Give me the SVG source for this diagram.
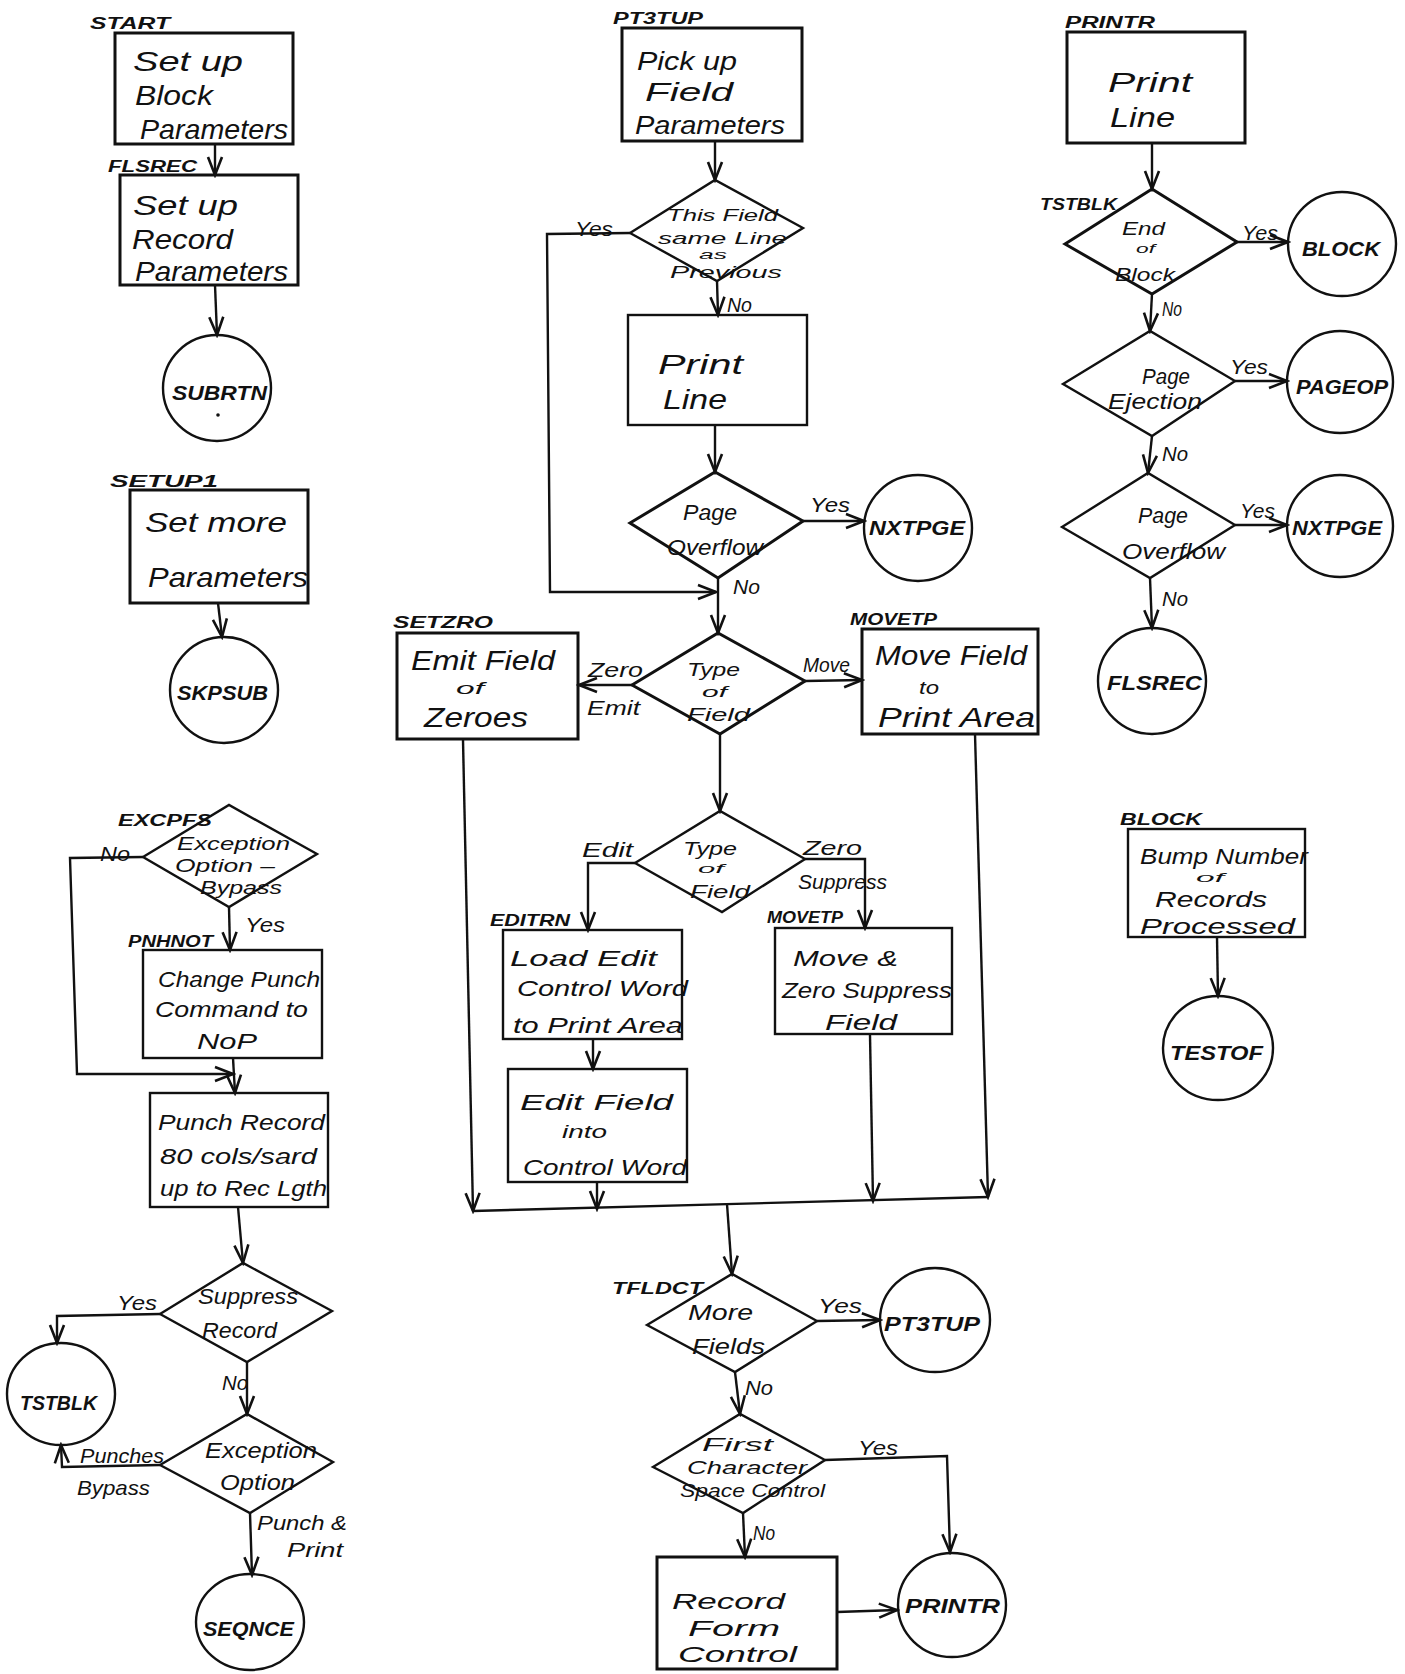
<svg xmlns="http://www.w3.org/2000/svg" width="1405" height="1674" viewBox="0 0 1405 1674">
<defs>
<style>
text{font-family:"Liberation Sans","DejaVu Sans",sans-serif;font-style:italic;fill:#111}
.t{font-size:28px}
.t2{font-size:26px}
.t3{font-size:22px}
.d{font-size:22px}
.d2{font-size:18px}
.o{font-size:14px}
.c{font-size:20px;font-weight:bold}
.n{font-size:16px;font-weight:bold}
.e{font-size:21px}
.s{fill:none;stroke:#111;stroke-width:3}
.l{fill:none;stroke:#111;stroke-width:2.4}
</style>
<marker id="a" markerWidth="22" markerHeight="18" refX="19" refY="9" orient="auto" markerUnits="userSpaceOnUse">
<path d="M1,2 L19,9 L1,16" fill="none" stroke="#111" stroke-width="2.6"/>
</marker>
</defs>
<rect width="1405" height="1674" fill="#fff"/>

<g id="connectors" class="l">
<line x1="215" y1="144" x2="215" y2="175" marker-end="url(#a)"/>
<line x1="215" y1="285" x2="217" y2="335" marker-end="url(#a)"/>
<line x1="218" y1="603" x2="222" y2="637" marker-end="url(#a)"/>
<polyline points="143,857 70,858 77,1074 233,1074" marker-end="url(#a)"/>
<line x1="229" y1="907" x2="230" y2="950" marker-end="url(#a)"/>
<line x1="233" y1="1058" x2="235" y2="1093" marker-end="url(#a)"/>
<line x1="238" y1="1207" x2="243" y2="1263" marker-end="url(#a)"/>
<polyline points="160,1314 57,1316 57,1343" marker-end="url(#a)"/>
<line x1="247" y1="1362" x2="247" y2="1414" marker-end="url(#a)"/>
<polyline points="160,1465 62,1467 61,1445" marker-end="url(#a)"/>
<line x1="250" y1="1513" x2="252" y2="1575" marker-end="url(#a)"/>
<line x1="715" y1="141" x2="715" y2="180" marker-end="url(#a)"/>
<polyline points="630,233 547,234 550,592 716,592" marker-end="url(#a)"/>
<line x1="717" y1="281" x2="718" y2="315" marker-end="url(#a)"/>
<line x1="715" y1="425" x2="715" y2="472" marker-end="url(#a)"/>
<line x1="803" y1="521" x2="864" y2="521" marker-end="url(#a)"/>
<line x1="718" y1="578" x2="718" y2="633" marker-end="url(#a)"/>
<line x1="632" y1="685" x2="579" y2="685" marker-end="url(#a)"/>
<line x1="805" y1="681" x2="862" y2="680" marker-end="url(#a)"/>
<line x1="720" y1="734" x2="720" y2="811" marker-end="url(#a)"/>
<polyline points="635,863 588,863 588,930" marker-end="url(#a)"/>
<polyline points="805,859 865,859 865,928" marker-end="url(#a)"/>
<line x1="593" y1="1039" x2="593" y2="1069" marker-end="url(#a)"/>
<line x1="463" y1="740" x2="473" y2="1211" marker-end="url(#a)"/>
<line x1="597" y1="1182" x2="597" y2="1209" marker-end="url(#a)"/>
<line x1="870" y1="1035" x2="873" y2="1201" marker-end="url(#a)"/>
<line x1="975" y1="734" x2="988" y2="1197" marker-end="url(#a)"/>
<line x1="473" y1="1211" x2="988" y2="1197"/>
<line x1="727" y1="1204" x2="732" y2="1274" marker-end="url(#a)"/>
<line x1="817" y1="1321" x2="880" y2="1320" marker-end="url(#a)"/>
<line x1="735" y1="1372" x2="740" y2="1414" marker-end="url(#a)"/>
<polyline points="825,1460 947,1456 950,1552" marker-end="url(#a)"/>
<line x1="743" y1="1513" x2="745" y2="1557" marker-end="url(#a)"/>
<line x1="837" y1="1612" x2="897" y2="1610" marker-end="url(#a)"/>
<line x1="1152" y1="143" x2="1152" y2="189" marker-end="url(#a)"/>
<line x1="1237" y1="242" x2="1288" y2="242" marker-end="url(#a)"/>
<line x1="1152" y1="294" x2="1150" y2="331" marker-end="url(#a)"/>
<line x1="1235" y1="381" x2="1287" y2="381" marker-end="url(#a)"/>
<line x1="1152" y1="436" x2="1148" y2="473" marker-end="url(#a)"/>
<line x1="1235" y1="525" x2="1287" y2="525" marker-end="url(#a)"/>
<line x1="1150" y1="578" x2="1152" y2="628" marker-end="url(#a)"/>
<line x1="1217" y1="937" x2="1218" y2="996" marker-end="url(#a)"/>
</g>

<g id="edge-labels" class="e">
<text x="100" y="861" textLength="30" lengthAdjust="spacingAndGlyphs">No</text>
<text x="245" y="932" textLength="40" lengthAdjust="spacingAndGlyphs">Yes</text>
<text x="117" y="1310" textLength="40" lengthAdjust="spacingAndGlyphs">Yes</text>
<text x="222" y="1390" textLength="26" lengthAdjust="spacingAndGlyphs">No</text>
<text x="80" y="1463" textLength="84" lengthAdjust="spacingAndGlyphs">Punches</text>
<text x="77" y="1495" textLength="73" lengthAdjust="spacingAndGlyphs">Bypass</text>
<text x="257" y="1530" textLength="90" lengthAdjust="spacingAndGlyphs">Punch &amp;</text>
<text x="287" y="1557" textLength="56" lengthAdjust="spacingAndGlyphs">Print</text>
<text x="575" y="236" textLength="38" lengthAdjust="spacingAndGlyphs">Yes</text>
<text x="727" y="312" textLength="25" lengthAdjust="spacingAndGlyphs">No</text>
<text x="810" y="512" textLength="40" lengthAdjust="spacingAndGlyphs">Yes</text>
<text x="733" y="594" textLength="27" lengthAdjust="spacingAndGlyphs">No</text>
<text x="588" y="677" textLength="55" lengthAdjust="spacingAndGlyphs">Zero</text>
<text x="587" y="715" textLength="53" lengthAdjust="spacingAndGlyphs">Emit</text>
<text x="803" y="672" textLength="47" lengthAdjust="spacingAndGlyphs">Move</text>
<text x="582" y="857" textLength="51" lengthAdjust="spacingAndGlyphs">Edit</text>
<text x="803" y="855" textLength="59" lengthAdjust="spacingAndGlyphs">Zero</text>
<text x="798" y="889" textLength="89" lengthAdjust="spacingAndGlyphs">Suppress</text>
<text x="818" y="1313" textLength="44" lengthAdjust="spacingAndGlyphs">Yes</text>
<text x="745" y="1395" textLength="28" lengthAdjust="spacingAndGlyphs">No</text>
<text x="858" y="1455" textLength="40" lengthAdjust="spacingAndGlyphs">Yes</text>
<text x="753" y="1540" textLength="22" lengthAdjust="spacingAndGlyphs">No</text>
<text x="1242" y="240" textLength="36" lengthAdjust="spacingAndGlyphs">Yes</text>
<text x="1162" y="316" textLength="20" lengthAdjust="spacingAndGlyphs">No</text>
<text x="1230" y="374" textLength="38" lengthAdjust="spacingAndGlyphs">Yes</text>
<text x="1162" y="461" textLength="26" lengthAdjust="spacingAndGlyphs">No</text>
<text x="1240" y="518" textLength="35" lengthAdjust="spacingAndGlyphs">Yes</text>
<text x="1162" y="606" textLength="26" lengthAdjust="spacingAndGlyphs">No</text>
</g>

<g id="start">
<text class="n" x="90" y="29" textLength="80" lengthAdjust="spacingAndGlyphs">START</text>
<rect class="s" x="115" y="33" width="178" height="111"/>
<text class="t" x="133" y="71" textLength="110" lengthAdjust="spacingAndGlyphs">Set up</text>
<text class="t" x="135" y="105" textLength="78" lengthAdjust="spacingAndGlyphs">Block</text>
<text class="t" x="140" y="139" textLength="148" lengthAdjust="spacingAndGlyphs">Parameters</text>
</g>
<g id="flsrec">
<text class="n" x="108" y="172" textLength="89" lengthAdjust="spacingAndGlyphs">FLSREC</text>
<rect class="s" x="120" y="175" width="178" height="110"/>
<text class="t" x="133" y="215" textLength="105" lengthAdjust="spacingAndGlyphs">Set up</text>
<text class="t" x="132" y="249" textLength="101" lengthAdjust="spacingAndGlyphs">Record</text>
<text class="t" x="135" y="281" textLength="153" lengthAdjust="spacingAndGlyphs">Parameters</text>
</g>
<g id="subrtn">
<ellipse class="l" cx="217" cy="388" rx="54" ry="53"/>
<text class="c" x="172" y="400" textLength="95" lengthAdjust="spacingAndGlyphs">SUBRTN</text>
<circle cx="218" cy="415" r="1.8" fill="#111"/>
</g>
<g id="setup1">
<text class="n" x="110" y="487" textLength="108" lengthAdjust="spacingAndGlyphs">SETUP1</text>
<rect class="s" x="130" y="490" width="178" height="113"/>
<text class="t" x="145" y="532" textLength="142" lengthAdjust="spacingAndGlyphs">Set more</text>
<text class="t" x="148" y="587" textLength="160" lengthAdjust="spacingAndGlyphs">Parameters</text>
</g>
<g id="skpsub">
<ellipse class="l" cx="224" cy="690" rx="54" ry="53"/>
<text class="c" x="177" y="700" textLength="91" lengthAdjust="spacingAndGlyphs">SKPSUB</text>
</g>
<g id="excpfs">
<text class="n" x="118" y="826" textLength="94" lengthAdjust="spacingAndGlyphs">EXCPFS</text>
<polygon class="l" points="143,857 229,805 317,854 229,907"/>
<text class="d2" x="177" y="850" textLength="113" lengthAdjust="spacingAndGlyphs">Exception</text>
<text class="d2" x="175" y="872" textLength="100" lengthAdjust="spacingAndGlyphs">Option –</text>
<text class="d2" x="200" y="894" textLength="82" lengthAdjust="spacingAndGlyphs">Bypass</text>
</g>
<g id="pnhnot">
<text class="n" x="128" y="947" textLength="85" lengthAdjust="spacingAndGlyphs">PNHNOT</text>
<rect class="l" x="143" y="950" width="179" height="108"/>
<text class="d" x="158" y="987" textLength="162" lengthAdjust="spacingAndGlyphs">Change Punch</text>
<text class="d" x="155" y="1017" textLength="153" lengthAdjust="spacingAndGlyphs">Command to</text>
<text class="d" x="197" y="1049" textLength="60" lengthAdjust="spacingAndGlyphs">NoP</text>
</g>
<g id="punch-record">
<rect class="l" x="150" y="1093" width="178" height="114"/>
<text class="d" x="158" y="1130" textLength="167" lengthAdjust="spacingAndGlyphs">Punch Record</text>
<text class="d" x="160" y="1164" textLength="157" lengthAdjust="spacingAndGlyphs">80 cols/sard</text>
<text class="d" x="160" y="1196" textLength="167" lengthAdjust="spacingAndGlyphs">up to Rec Lgth</text>
</g>
<g id="suppress-record">
<polygon class="l" points="160,1314 243,1263 332,1311 247,1362"/>
<text class="d" x="198" y="1304" textLength="100" lengthAdjust="spacingAndGlyphs">Suppress</text>
<text class="d" x="202" y="1338" textLength="75" lengthAdjust="spacingAndGlyphs">Record</text>
</g>
<g id="tstblk-conn">
<ellipse class="l" cx="61" cy="1394" rx="54" ry="51"/>
<text class="c" x="20" y="1410" textLength="77" lengthAdjust="spacingAndGlyphs">TSTBLK</text>
</g>
<g id="exception-option">
<polygon class="l" points="160,1465 247,1414 333,1462 250,1513"/>
<text class="d" x="205" y="1458" textLength="112" lengthAdjust="spacingAndGlyphs">Exception</text>
<text class="d" x="220" y="1490" textLength="75" lengthAdjust="spacingAndGlyphs">Option</text>
</g>
<g id="seqnce">
<ellipse class="l" cx="250" cy="1622" rx="54" ry="48"/>
<text class="c" x="203" y="1636" textLength="91" lengthAdjust="spacingAndGlyphs">SEQNCE</text>
</g>

<g id="pt3tup">
<text class="n" x="613" y="24" textLength="90" lengthAdjust="spacingAndGlyphs">PT3TUP</text>
<rect class="s" x="622" y="28" width="180" height="113"/>
<text class="t2" x="637" y="70" textLength="100" lengthAdjust="spacingAndGlyphs">Pick up</text>
<text class="t2" x="645" y="101" textLength="88" lengthAdjust="spacingAndGlyphs">Field</text>
<text class="t2" x="635" y="134" textLength="150" lengthAdjust="spacingAndGlyphs">Parameters</text>
</g>
<g id="same-line">
<polygon class="l" points="630,233 715,180 803,228 717,281"/>
<text x="667" y="221" style="font-size:17px" textLength="111" lengthAdjust="spacingAndGlyphs">This Field</text>
<text x="658" y="244" style="font-size:17px" textLength="129" lengthAdjust="spacingAndGlyphs">same Line</text>
<text x="699" y="259" style="font-size:12px" textLength="28" lengthAdjust="spacingAndGlyphs">as</text>
<text x="670" y="278" style="font-size:17px" textLength="112" lengthAdjust="spacingAndGlyphs">Previous</text>
</g>
<g id="print-line-1">
<rect class="l" x="628" y="315" width="179" height="110"/>
<text class="t" x="658" y="374" textLength="85" lengthAdjust="spacingAndGlyphs">Print</text>
<text class="t" x="663" y="409" textLength="64" lengthAdjust="spacingAndGlyphs">Line</text>
</g>
<g id="page-overflow-1">
<polygon class="s" points="630,523 715,472 803,521 718,578"/>
<text class="d" x="683" y="520" textLength="54" lengthAdjust="spacingAndGlyphs">Page</text>
<text class="d" x="667" y="555" textLength="96" lengthAdjust="spacingAndGlyphs">Overflow</text>
</g>
<g id="nxtpge-1">
<ellipse class="l" cx="918" cy="528" rx="54" ry="53"/>
<text class="c" x="869" y="535" textLength="96" lengthAdjust="spacingAndGlyphs">NXTPGE</text>
</g>
<g id="setzro">
<text class="n" x="393" y="628" textLength="100" lengthAdjust="spacingAndGlyphs">SETZRO</text>
<rect class="s" x="397" y="633" width="181" height="106"/>
<text class="t" x="411" y="670" textLength="144" lengthAdjust="spacingAndGlyphs">Emit Field</text>
<text x="456" y="694" style="font-size:16px" textLength="28" lengthAdjust="spacingAndGlyphs">of</text>
<text class="t" x="424" y="727" textLength="104" lengthAdjust="spacingAndGlyphs">Zeroes</text>
</g>
<g id="type-of-field-1">
<polygon class="s" points="632,685 718,633 805,681 720,734"/>
<text x="687" y="676" style="font-size:19px" textLength="53" lengthAdjust="spacingAndGlyphs">Type</text>
<text class="o" x="702" y="697" textLength="25" lengthAdjust="spacingAndGlyphs">of</text>
<text x="687" y="721" style="font-size:19px" textLength="63" lengthAdjust="spacingAndGlyphs">Field</text>
</g>
<g id="movetp-1">
<text class="n" x="850" y="625" textLength="87" lengthAdjust="spacingAndGlyphs">MOVETP</text>
<rect class="s" x="862" y="629" width="176" height="105"/>
<text class="t" x="875" y="665" textLength="152" lengthAdjust="spacingAndGlyphs">Move Field</text>
<text x="919" y="694" style="font-size:18px" textLength="20" lengthAdjust="spacingAndGlyphs">to</text>
<text class="t" x="878" y="727" textLength="157" lengthAdjust="spacingAndGlyphs">Print Area</text>
</g>
<g id="type-of-field-2">
<polygon class="l" points="635,863 720,811 805,859 722,912"/>
<text class="d2" x="683" y="855" textLength="54" lengthAdjust="spacingAndGlyphs">Type</text>
<text x="698" y="873" style="font-size:13px" textLength="26" lengthAdjust="spacingAndGlyphs">of</text>
<text class="d2" x="690" y="898" textLength="60" lengthAdjust="spacingAndGlyphs">Field</text>
</g>
<g id="editrn">
<text class="n" x="490" y="926" textLength="80" lengthAdjust="spacingAndGlyphs">EDITRN</text>
<rect class="l" x="503" y="930" width="179" height="109"/>
<text class="d" x="510" y="966" textLength="147" lengthAdjust="spacingAndGlyphs">Load Edit</text>
<text class="d" x="517" y="996" textLength="171" lengthAdjust="spacingAndGlyphs">Control Word</text>
<text class="d" x="513" y="1033" textLength="170" lengthAdjust="spacingAndGlyphs">to Print Area</text>
</g>
<g id="movetp-2">
<text class="n" x="767" y="923" textLength="76" lengthAdjust="spacingAndGlyphs">MOVETP</text>
<rect class="l" x="775" y="928" width="177" height="106"/>
<text class="d" x="793" y="966" textLength="105" lengthAdjust="spacingAndGlyphs">Move &amp;</text>
<text class="d" x="782" y="998" textLength="170" lengthAdjust="spacingAndGlyphs">Zero Suppress</text>
<text class="d" x="825" y="1030" textLength="72" lengthAdjust="spacingAndGlyphs">Field</text>
</g>
<g id="edit-field">
<rect class="l" x="508" y="1069" width="179" height="113"/>
<text class="d" x="520" y="1110" textLength="153" lengthAdjust="spacingAndGlyphs">Edit Field</text>
<text class="d2" x="562" y="1138" textLength="45" lengthAdjust="spacingAndGlyphs">into</text>
<text class="d" x="523" y="1175" textLength="164" lengthAdjust="spacingAndGlyphs">Control Word</text>
</g>
<g id="tfldct">
<text class="n" x="612" y="1294" textLength="91" lengthAdjust="spacingAndGlyphs">TFLDCT</text>
<polygon class="l" points="647,1325 732,1274 817,1321 735,1372"/>
<text class="d" x="688" y="1320" textLength="65" lengthAdjust="spacingAndGlyphs">More</text>
<text class="d" x="692" y="1354" textLength="73" lengthAdjust="spacingAndGlyphs">Fields</text>
</g>
<g id="pt3tup-conn">
<ellipse class="l" cx="935" cy="1320" rx="55" ry="52"/>
<text class="c" x="884" y="1331" textLength="96" lengthAdjust="spacingAndGlyphs">PT3TUP</text>
</g>
<g id="first-character">
<polygon class="l" points="653,1467 740,1414 825,1460 743,1513"/>
<text class="d2" x="702" y="1451" textLength="71" lengthAdjust="spacingAndGlyphs">First</text>
<text class="d2" x="687" y="1474" textLength="120" lengthAdjust="spacingAndGlyphs">Character</text>
<text class="d2" x="680" y="1497" textLength="145" lengthAdjust="spacingAndGlyphs">Space Control</text>
</g>
<g id="record-form-control">
<rect class="s" x="657" y="1557" width="180" height="112"/>
<text class="t3" x="672" y="1609" textLength="113" lengthAdjust="spacingAndGlyphs">Record</text>
<text class="t3" x="688" y="1636" textLength="92" lengthAdjust="spacingAndGlyphs">Form</text>
<text class="t3" x="678" y="1662" textLength="119" lengthAdjust="spacingAndGlyphs">Control</text>
</g>
<g id="printr-conn">
<ellipse class="l" cx="952" cy="1605" rx="54" ry="52"/>
<text class="c" x="905" y="1613" textLength="95" lengthAdjust="spacingAndGlyphs">PRINTR</text>
</g>

<g id="printr">
<text class="n" x="1065" y="28" textLength="90" lengthAdjust="spacingAndGlyphs">PRINTR</text>
<rect class="s" x="1067" y="32" width="178" height="111"/>
<text class="t" x="1108" y="92" textLength="84" lengthAdjust="spacingAndGlyphs">Print</text>
<text class="t" x="1110" y="127" textLength="65" lengthAdjust="spacingAndGlyphs">Line</text>
</g>
<g id="tstblk">
<text class="n" x="1040" y="210" textLength="77" lengthAdjust="spacingAndGlyphs">TSTBLK</text>
<polygon class="s" points="1065,244 1152,189 1237,242 1152,294"/>
<text x="1122" y="235" style="font-size:19px" textLength="43" lengthAdjust="spacingAndGlyphs">End</text>
<text x="1136" y="253" style="font-size:13px" textLength="19" lengthAdjust="spacingAndGlyphs">of</text>
<text x="1115" y="281" style="font-size:19px" textLength="60" lengthAdjust="spacingAndGlyphs">Block</text>
</g>
<g id="block-conn">
<ellipse class="l" cx="1342" cy="244" rx="54" ry="52"/>
<text class="c" x="1302" y="256" textLength="78" lengthAdjust="spacingAndGlyphs">BLOCK</text>
</g>
<g id="page-ejection">
<polygon class="l" points="1063,384 1150,331 1235,381 1152,436"/>
<text class="d" x="1142" y="384" textLength="48" lengthAdjust="spacingAndGlyphs">Page</text>
<text class="d" x="1108" y="409" textLength="94" lengthAdjust="spacingAndGlyphs">Ejection</text>
</g>
<g id="pageop">
<ellipse class="l" cx="1340" cy="382" rx="53" ry="51"/>
<text class="c" x="1296" y="394" textLength="92" lengthAdjust="spacingAndGlyphs">PAGEOP</text>
</g>
<g id="page-overflow-2">
<polygon class="l" points="1062,527 1148,473 1235,525 1150,578"/>
<text class="d" x="1138" y="523" textLength="50" lengthAdjust="spacingAndGlyphs">Page</text>
<text class="d" x="1122" y="559" textLength="103" lengthAdjust="spacingAndGlyphs">Overflow</text>
</g>
<g id="nxtpge-2">
<ellipse class="l" cx="1340" cy="526" rx="53" ry="51"/>
<text class="c" x="1292" y="535" textLength="90" lengthAdjust="spacingAndGlyphs">NXTPGE</text>
</g>
<g id="flsrec-conn">
<ellipse class="l" cx="1152" cy="681" rx="54" ry="53"/>
<text class="c" x="1107" y="690" textLength="95" lengthAdjust="spacingAndGlyphs">FLSREC</text>
</g>
<g id="block">
<text class="n" x="1120" y="825" textLength="82" lengthAdjust="spacingAndGlyphs">BLOCK</text>
<rect class="l" x="1128" y="829" width="177" height="108"/>
<text class="d" x="1140" y="864" textLength="168" lengthAdjust="spacingAndGlyphs">Bump Number</text>
<text x="1196" y="882" style="font-size:13px" textLength="28" lengthAdjust="spacingAndGlyphs">of</text>
<text class="d" x="1155" y="907" textLength="112" lengthAdjust="spacingAndGlyphs">Records</text>
<text class="d" x="1140" y="934" textLength="155" lengthAdjust="spacingAndGlyphs">Processed</text>
</g>
<g id="testof">
<ellipse class="l" cx="1218" cy="1048" rx="55" ry="52"/>
<text class="c" x="1170" y="1060" textLength="93" lengthAdjust="spacingAndGlyphs">TESTOF</text>
</g>
</svg>
